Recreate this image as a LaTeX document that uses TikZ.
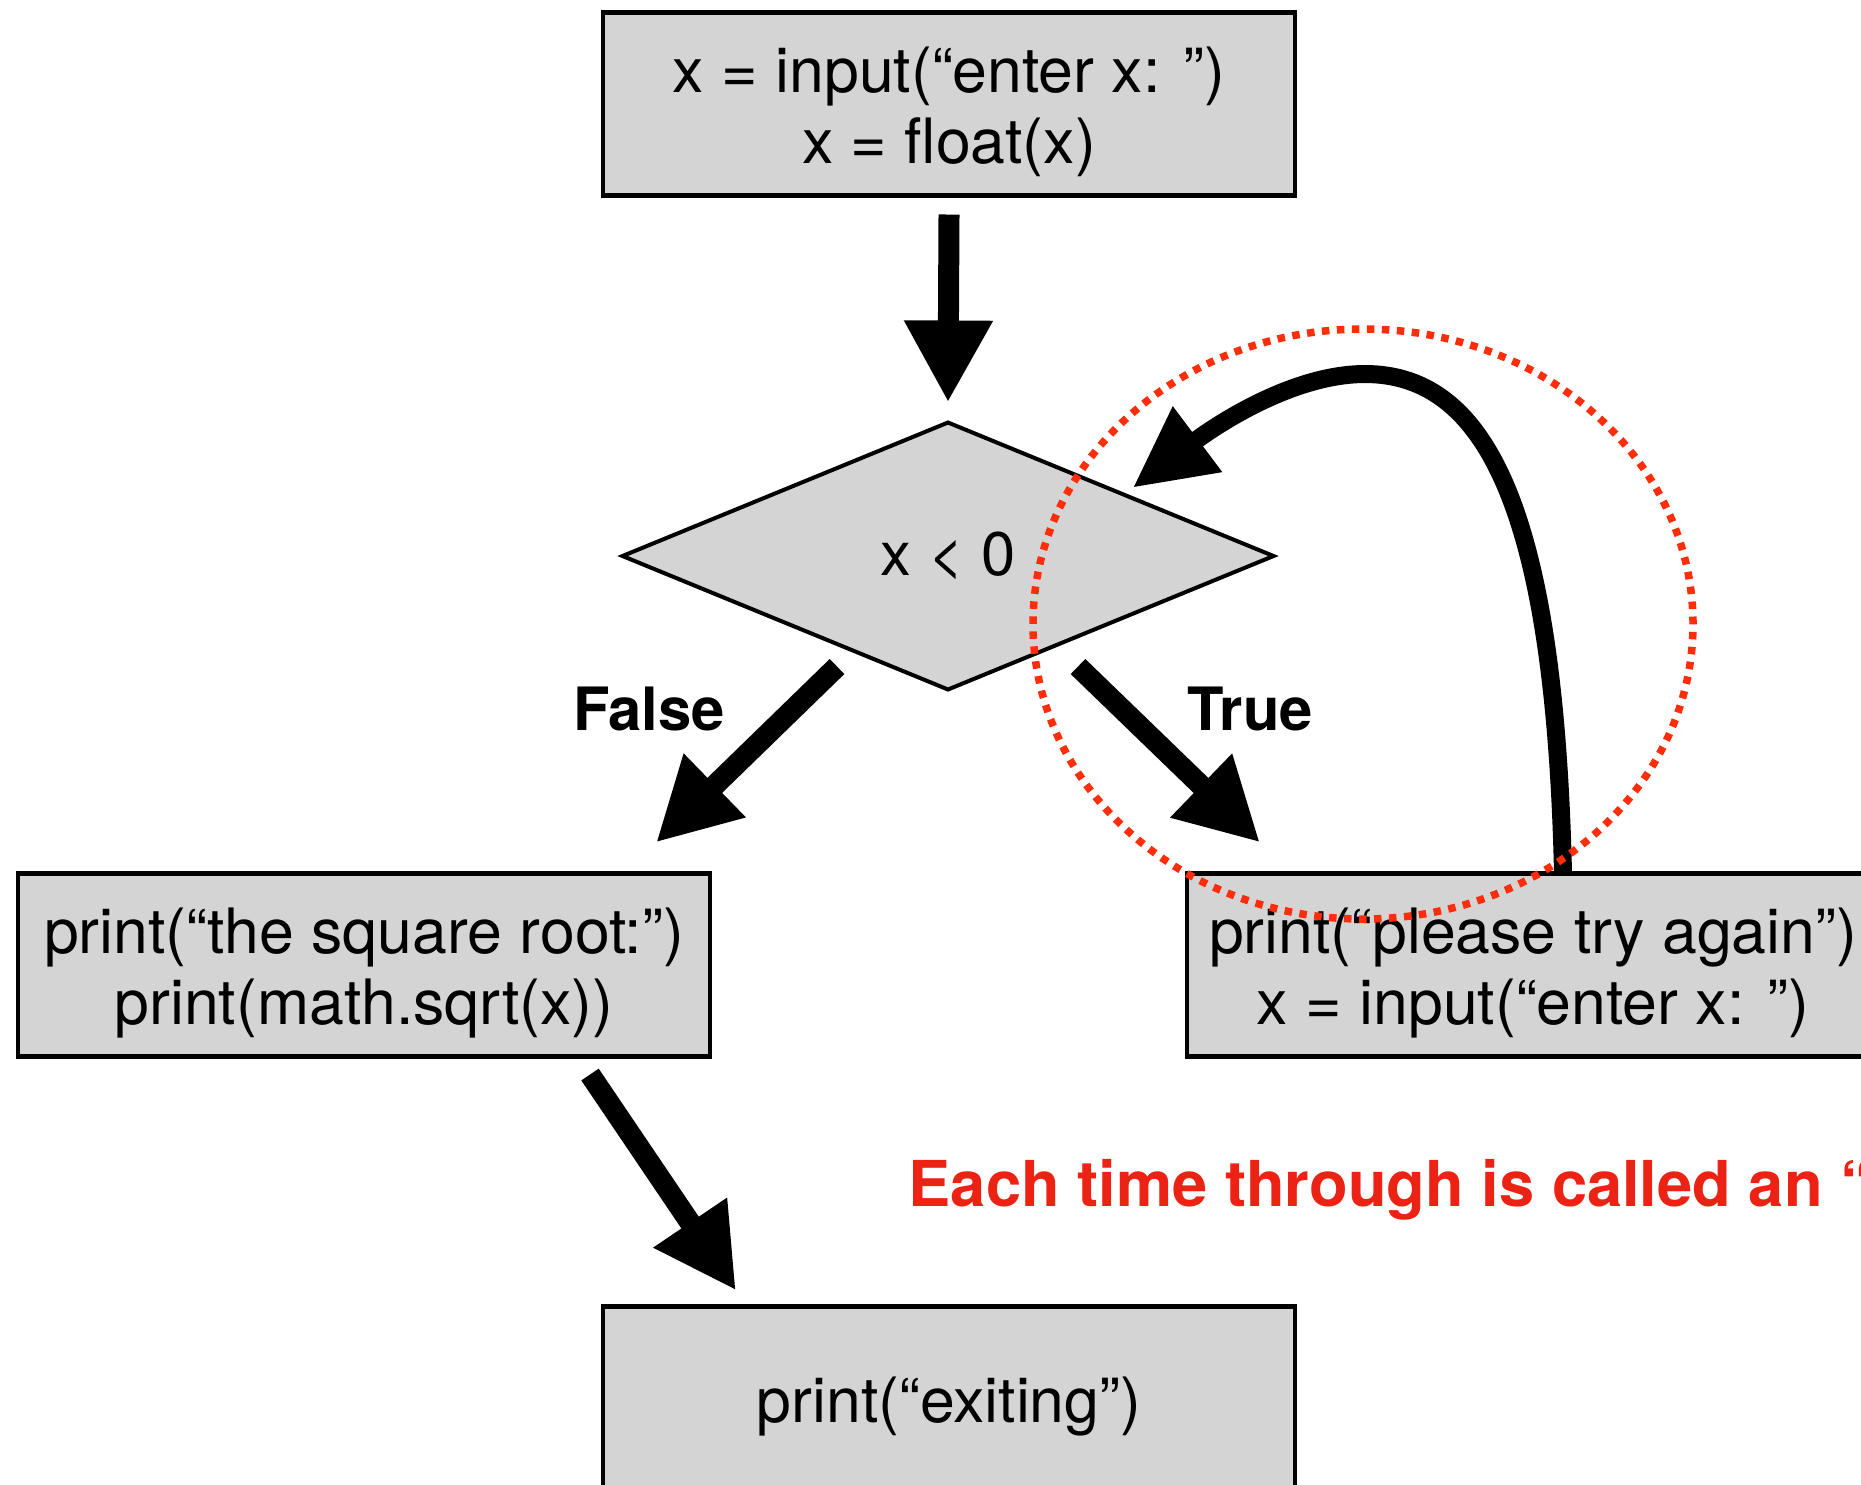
\documentclass[tikz,border=0pt]{standalone}
\usepackage{fontspec}
\setmainfont{TeX Gyre Heros}
\usetikzlibrary{shapes.geometric, arrows.meta, positioning, calc}
\definecolor{boxgray}{RGB}{212,212,212}
\definecolor{noteRed}{RGB}{236,35,20}
\definecolor{dotRed}{RGB}{255,45,10}
\newcommand{\upstrut}{\rule{0pt}{17.9pt}}
\newcommand{\downstrut}{\rule[-4pt]{0pt}{4pt}}

\begin{document}
\begin{tikzpicture}[
    x=0.1mm, y=-0.1mm,
    stepbox/.style={draw, line width=0.45mm, fill=boxgray, minimum width=69.2mm, minimum height=18.3mm, align=center, font=\fontsize{17.8}{20.2}\selectfont, inner sep=0pt, outer sep=0pt},
    choice/.style={draw, diamond, line width=0.4mm, fill=boxgray, minimum width=65.1mm, minimum height=26.7mm, aspect=2.44, font=\fontsize{17.5}{21}\selectfont, inner sep=0pt, outer sep=0pt},
    branch/.style={font=\bfseries\fontsize{17}{20}\selectfont, anchor=base, inner sep=0pt},
    bigarr/.style={-{Triangle[length=8.2mm, width=8.3mm]}, line width=2.1mm},
    looparr/.style={-{Triangle[length=8.1mm, width=7.7mm]}, line width=1.8mm},
]
\useasboundingbox (0,0) rectangle (1861,1484);

\node[stepbox] (start) at (949,104) {\upstrut x = input(“enter x: ”)\\x = float(x)\downstrut};
\node[choice] (test) at (948,556) {x < 0};
\node[stepbox] (sqrt) at (364,965) {\upstrut print(“the square root:”)\\print(math.sqrt(x))\downstrut};
\node[stepbox] (again) at (1533,965) {\upstrut print(“please try again”)\\x = input(“enter x: ”)\downstrut};
\node[stepbox] (exit) at (949,1398) {\upstrut print(“exiting”)\downstrut};

\node[branch] (no) at (649,730) {False};
\node[branch] (yes) at (1250,730) {True};
\node[font=\bfseries\fontsize{18}{21}\selectfont, text=noteRed, anchor=base west, inner sep=0pt] (note) at (908,1206) {Each time through is called an “};

\draw[bigarr] ([yshift=-1.9mm]start.south) -- ([yshift=2mm]test.north);
\draw[bigarr] ([xshift=-11.1mm, yshift=2.3mm]test.south) -- ([xshift=-5.4mm, yshift=3.1mm]sqrt.north east);
\draw[bigarr] ([xshift=13mm, yshift=2.3mm]test.south) -- ([xshift=7.3mm, yshift=3.1mm]again.north west);
\draw[bigarr] ([xshift=22.6mm, yshift=-1.8mm]sqrt.south) -- ([xshift=13.3mm, yshift=1.6mm]exit.north west);

% loop back to the test
\draw[looparr] ([xshift=3mm]again.north) .. controls (1555,520) and (1490,374) .. (1365,374)
    .. controls (1290,374) and (1211,429) .. ([xshift=2.2mm, yshift=0.15mm]test.north east);

\node[draw=dotRed, ellipse, line width=0.75mm, dash pattern=on 0.75mm off 0.75mm, minimum width=66mm, minimum height=59mm, inner sep=0pt] (iter) at (1363,624) {};

\end{tikzpicture}
\end{document}
